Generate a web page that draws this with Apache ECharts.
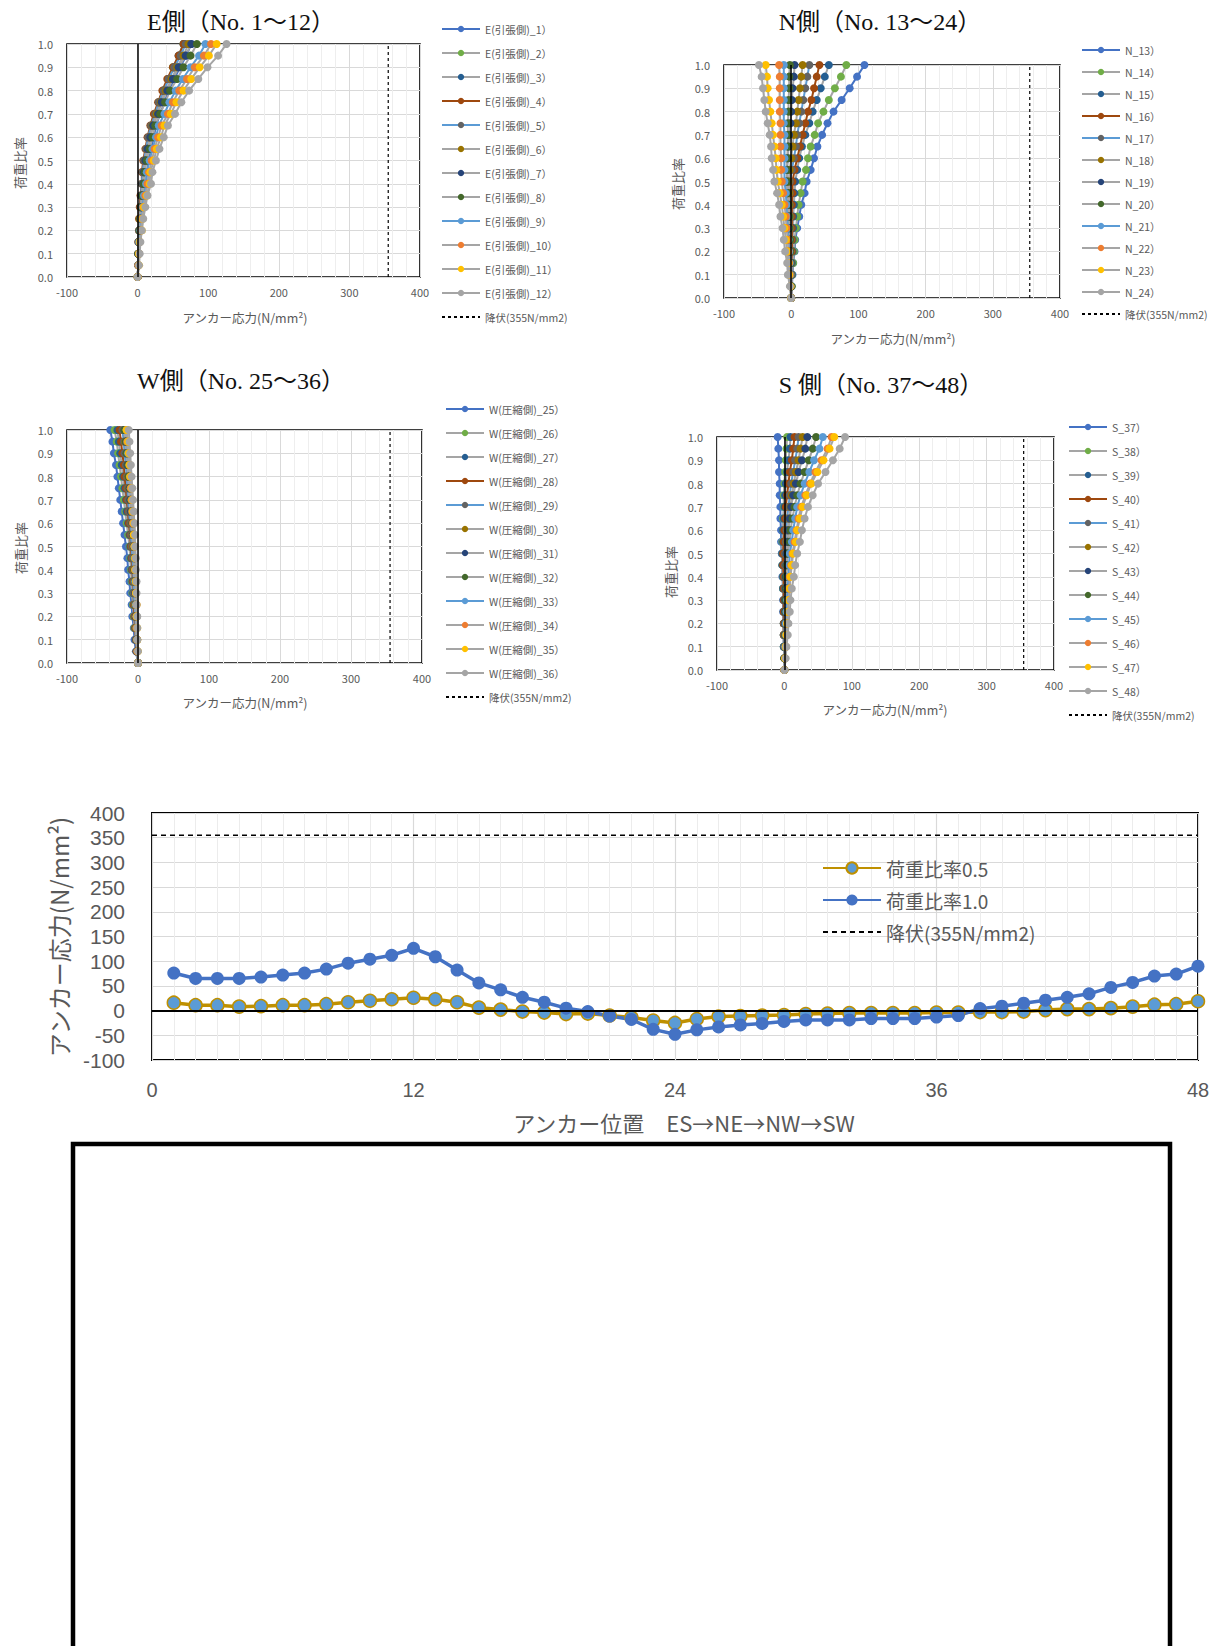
<!DOCTYPE html>
<html><head><meta charset="utf-8">
<script src="https://cdn.jsdelivr.net/npm/echarts/dist/echarts.min.js"></script>
<style>
html,body{margin:0;padding:0;background:#fff;width:1232px;height:1646px;overflow:hidden;}
.c{position:absolute;}
</style></head><body>
<div id="chE" class="c" style="left:0;top:0;width:616px;height:350px"></div>
<div id="chN" class="c" style="left:616px;top:0;width:616px;height:350px"></div>
<div id="chW" class="c" style="left:0;top:350px;width:616px;height:395px"></div>
<div id="chS" class="c" style="left:616px;top:350px;width:616px;height:395px"></div>
<div id="chB" class="c" style="left:0;top:745px;width:1232px;height:901px"></div>
<script>
// ---------- data ----------
const loadRatios = [0,0.05,0.1,0.15,0.2,0.25,0.3,0.35,0.4,0.45,0.5,0.55,0.6,0.65,0.7,0.75,0.8,0.85,0.9,0.95,1.0];
const yieldStress = 355;
const yieldName = '降伏(355N/mm2)';

const eNames = ['E(引張側)_1）','E(引張側)_2）','E(引張側)_3）','E(引張側)_4）','E(引張側)_5）','E(引張側)_6）','E(引張側)_7）','E(引張側)_8）','E(引張側)_9）','E(引張側)_10）','E(引張側)_11）','E(引張側)_12）'];
const nNames = ['N_13）','N_14）','N_15）','N_16）','N_17）','N_18）','N_19）','N_20）','N_21）','N_22）','N_23）','N_24）'];
const wNames = ['W(圧縮側)_25）','W(圧縮側)_26）','W(圧縮側)_27）','W(圧縮側)_28）','W(圧縮側)_29）','W(圧縮側)_30）','W(圧縮側)_31）','W(圧縮側)_32）','W(圧縮側)_33）','W(圧縮側)_34）','W(圧縮側)_35）','W(圧縮側)_36）'];
const sNames = ['S_37）','S_38）','S_39）','S_40）','S_41）','S_42）','S_43）','S_44）','S_45）','S_46）','S_47）','S_48）'];

// stress (N/mm2) at each load ratio, one row per anchor
const eValues = [
 [0,1,2,2,4,5,7,9,12,13,16,19,23,26,32,38,44,52,60,69,76],
 [0,1,1,2,3,3,5,6,8,9,11,14,17,20,26,30,36,43,50,59,65],
 [0,1,1,2,3,4,5,6,8,9,11,14,17,21,26,31,37,44,51,58,65],
 [0,1,1,1,2,2,3,4,6,6,8,11,14,18,23,29,35,42,50,58,65],
 [0,1,1,1,2,3,4,5,6,7,9,12,15,19,25,30,37,44,52,61,68],
 [0,1,1,2,3,3,5,6,8,9,11,14,18,21,27,33,40,48,56,65,72],
 [0,1,1,2,3,4,5,6,8,9,11,14,18,22,29,34,42,50,58,68,76],
 [0,1,1,2,3,4,5,7,9,10,13,17,21,25,32,39,46,56,65,75,84],
 [0,1,2,2,4,5,7,9,12,13,17,21,26,30,38,45,54,64,75,87,96],
 [0,1,2,3,5,6,8,11,14,16,20,24,29,34,43,50,59,70,81,94,104],
 [0,2,2,3,6,7,9,13,17,18,23,27,33,38,47,55,65,76,88,101,112],
 [0,2,3,4,6,8,11,14,19,21,26,31,37,43,53,62,73,86,99,114,126]
];
const nValues = [
 [0,1,2,3,5,6,9,12,15,20,23,29,34,39,46,54,63,75,87,98,109],
 [0,1,1,3,4,5,7,9,11,14,17,22,25,29,35,40,48,56,65,74,82],
 [0,0,1,1,2,2,3,3,4,5,6,9,12,16,21,27,32,38,44,50,56],
 [0,0,0,0,1,1,1,1,1,2,2,5,9,13,17,21,25,30,34,38,42],
 [0,0,0,0,-1,-1,-1,-1,-2,-2,-2,1,4,7,9,12,15,18,21,24,27],
 [0,0,0,-1,-1,-1,-2,-2,-3,-3,-4,-2,0,2,4,7,9,11,13,15,17],
 [0,0,-1,-1,-2,-2,-3,-4,-5,-6,-7,-6,-5,-4,-3,-1,0,1,2,4,5],
 [0,0,-1,-1,-2,-2,-3,-3,-4,-5,-6,-6,-6,-5,-5,-5,-4,-4,-3,-3,-2],
 [0,-1,-1,-2,-3,-4,-5,-6,-7,-8,-10,-10,-10,-10,-10,-11,-11,-11,-11,-11,-11],
 [0,-1,-2,-3,-4,-5,-7,-8,-10,-12,-14,-15,-15,-16,-16,-16,-17,-17,-17,-17,-18],
 [0,-1,-3,-4,-6,-8,-10,-12,-14,-17,-20,-22,-23,-25,-27,-29,-31,-33,-35,-36,-38],
 [0,-2,-5,-6,-9,-11,-13,-16,-18,-21,-25,-27,-29,-30,-32,-35,-38,-40,-42,-44,-48]
];
const wValues = [
 [0,-3,-5,-6,-8,-9,-11,-12,-14,-15,-17,-19,-21,-23,-25,-27,-29,-31,-34,-36,-39],
 [0,-2,-3,-5,-6,-7,-8,-9,-10,-11,-12,-14,-16,-18,-20,-22,-24,-26,-28,-30,-33],
 [0,-2,-3,-4,-5,-6,-7,-8,-9,-10,-11,-12,-14,-16,-17,-19,-21,-23,-25,-27,-29],
 [0,-2,-3,-4,-5,-6,-6,-7,-8,-9,-10,-11,-13,-14,-16,-17,-19,-20,-22,-24,-26],
 [0,-1,-3,-3,-4,-5,-6,-6,-7,-8,-9,-10,-11,-13,-14,-15,-16,-17,-19,-20,-22],
 [0,-1,-2,-3,-3,-4,-4,-5,-6,-6,-7,-8,-9,-10,-11,-13,-14,-15,-16,-18,-19],
 [0,-1,-2,-2,-3,-3,-4,-4,-5,-5,-6,-7,-8,-10,-11,-12,-13,-15,-16,-17,-19],
 [0,-1,-1,-2,-2,-3,-3,-4,-4,-5,-5,-6,-7,-9,-10,-11,-13,-14,-16,-17,-19],
 [0,-1,-1,-2,-2,-3,-3,-4,-4,-5,-5,-6,-7,-8,-9,-10,-11,-12,-14,-15,-16],
 [0,-1,-1,-2,-2,-2,-3,-3,-4,-4,-5,-6,-7,-8,-9,-10,-11,-12,-13,-15,-16],
 [0,0,-1,-1,-2,-2,-3,-3,-4,-4,-5,-6,-6,-7,-8,-9,-11,-12,-13,-14,-16],
 [0,0,-1,-1,-1,-2,-2,-2,-3,-3,-4,-4,-5,-6,-7,-8,-9,-10,-11,-12,-13]
];
const sValues = [
 [0,0,-1,-1,-1,-2,-2,-2,-3,-3,-4,-5,-5,-6,-6,-7,-7,-8,-8,-9,-10],
 [0,0,-1,-1,-1,-1,-1,-2,-2,-3,-3,-3,-2,-2,-1,-1,0,1,2,3,4],
 [0,0,-1,-1,-1,-1,-1,-2,-2,-3,-3,-2,-2,-1,0,1,2,4,6,8,9],
 [0,0,0,-1,-1,-1,-1,-1,-1,-2,-2,-1,0,1,2,4,6,8,11,13,15],
 [0,0,0,0,0,1,1,1,1,1,1,2,3,4,6,8,10,13,16,19,21],
 [0,0,1,1,1,1,1,2,2,3,3,4,5,7,9,11,14,17,21,24,27],
 [0,0,1,1,1,1,1,2,2,3,3,5,6,8,10,13,17,21,26,31,34],
 [0,0,1,1,2,2,2,3,3,4,5,8,9,12,15,19,24,30,36,42,47],
 [0,1,1,2,2,3,4,5,6,7,8,11,13,16,19,24,30,37,44,52,57],
 [0,1,2,3,4,5,6,7,8,10,12,15,18,21,25,31,38,46,55,64,70],
 [0,1,2,3,4,5,6,8,9,11,13,17,19,23,27,33,40,49,58,67,74],
 [0,2,3,5,6,8,9,11,14,16,19,23,26,30,35,42,50,61,72,82,90]
];
const anchorNos = [1,2,3,4,5,6,7,8,9,10,11,12,13,14,15,16,17,18,19,20,21,22,23,24,25,26,27,28,29,30,31,32,33,34,35,36,37,38,39,40,41,42,43,44,45,46,47,48];
const bottomNames = ['荷重比率0.5','荷重比率1.0'];

// ---------- style ----------
const FONT = "'Noto Sans CJK JP','Noto Sans',sans-serif";
const NUMFONT = "'Liberation Sans','Noto Sans',sans-serif";
const SERIF = "'Liberation Serif','DejaVu Serif','Noto Sans CJK JP',serif";
const TXT = '#595959';
const markerColors = ['#4472C4','#70AD47','#255E91','#9E480E','#636363','#997300','#264478','#43682B','#5B9BD5','#ED7D31','#FFC000','#A5A5A5'];
const lineColors = ['#4472C4','#A5A5A5','#A5A5A5','#9E480E','#5B9BD5','#A5A5A5','#A5A5A5','#A5A5A5','#5B9BD5','#A5A5A5','#A5A5A5','#A5A5A5'];

function txt(x, y, text, size, opts) {
  opts = opts || {};
  return {type:'text', x:x, y:y, rotation: opts.rot || 0, silent:true,
    style:{text:text, fill: opts.color || TXT, fontSize:size, fontFamily: opts.family || FONT,
      fontWeight: opts.weight || 'normal',
      align:'center', verticalAlign:'middle', textAlign:'center', textVerticalAlign:'middle'}};
}

function buildSmall(id, c) {
  const chart = echarts.init(document.getElementById(id), null, {renderer:'svg'});
  const series = [{
    name: yieldName, type:'line', data:[[yieldStress,0],[yieldStress,1]],
    symbol:'none', silent:true, animation:false,
    lineStyle:{color:'#000', type:[3,3], width:1.2}, itemStyle:{color:'#000'},
    markLine:{silent:true, symbol:'none', animation:false, label:{show:false},
      lineStyle:{color:'#000', type:'solid', width:1.5}, data:[{xAxis:0}]}
  }];
  c.values.forEach(function(vals, k){
    series.push({name:c.names[k], type:'line', data: vals.map(function(v,i){return [v, loadRatios[i]];}),
      symbol:'circle', symbolSize:8, animation:false, silent:true,
      lineStyle:{color:lineColors[k], width:2}, itemStyle:{color:markerColors[k]}});
  });
  const g = c.grid;
  chart.setOption({
    animation:false,
    grid:{left:g[0], top:g[1], width:g[2], height:g[3], show:true, borderColor:'#000', borderWidth:1.6},
    xAxis:{type:'value', min:-100, max:400, interval:100,
      axisLine:{show:false}, axisTick:{show:false},
      axisLabel:{color:TXT, fontSize:11, fontFamily:FONT, margin:9},
      splitLine:{lineStyle:{color:'#d9d9d9', width:1}},
      minorTick:{show:false, splitNumber:5},
      minorSplitLine:{show:true, lineStyle:{color:'#eeeeee', width:1}}},
    yAxis:{type:'value', min:0, max:1, interval:0.1,
      axisLine:{show:false}, axisTick:{show:false},
      axisLabel:{color:TXT, fontSize:11, fontFamily:FONT, margin:14, formatter:function(v){return v.toFixed(1);}},
      splitLine:{lineStyle:{color:'#d9d9d9', width:1}}},
    legend:{orient:'vertical', left:c.legend[0], top:c.legend[1], itemGap:c.legend[2],
      itemWidth:38, itemHeight:8, selectedMode:false,
      data: c.names.concat([{name:yieldName, itemStyle:{opacity:0}}]),
      textStyle:{color:TXT, fontSize:10.5, fontFamily:FONT, lineHeight:12}},
    graphic:[
      txt(c.title[0], c.title[1], c.title[2], 24, {color:'#111', family:SERIF}),
      txt(c.yname[0], c.yname[1], '荷重比率', 13, {rot:Math.PI/2}),
      txt(c.xname[0], c.xname[1], 'アンカー応力(N/mm²)', 12.5)
    ],
    series: series
  });
}

buildSmall('chE', {values:eValues, names:eNames, grid:[67,44,353,233],
  title:[241,22,'E側（No. 1～12）'], yname:[19,163], xname:[245,317], legend:[436,18,12]});
buildSmall('chN', {values:nValues, names:nNames, grid:[108,65,336,233],
  title:[264,22,'N側（No. 13～24）'], yname:[61,184], xname:[277,338], legend:[460,39,10]});
buildSmall('chW', {values:wValues, names:wNames, grid:[67,80,355,233],
  title:[241,31,'W側（No. 25～36）'], yname:[20,198], xname:[245,352], legend:[440,48,12]});
buildSmall('chS', {values:sValues, names:sNames, grid:[101,87,337,233],
  title:[265,35,'S 側（No. 37～48）'], yname:[54,222], xname:[269,359], legend:[447,66,12]});

// ---------- bottom chart ----------
const allValues = eValues.concat(nValues, wValues, sValues);
const iHalf = loadRatios.indexOf(0.5), iFull = loadRatios.indexOf(1.0);
const chB = echarts.init(document.getElementById('chB'), null, {renderer:'svg'});
chB.setOption({
  animation:false,
  grid:{left:152, top:68, width:1046, height:247, show:true, borderColor:'#000', borderWidth:2},
  xAxis:{type:'value', min:0, max:48, interval:12,
    axisLine:{show:false}, axisTick:{show:false},
    axisLabel:{color:TXT, fontSize:20, fontFamily:NUMFONT, margin:20},
    splitLine:{lineStyle:{color:'#d9d9d9', width:1.2}},
    minorTick:{show:false, splitNumber:12},
    minorSplitLine:{show:true, lineStyle:{color:'#ececec', width:1}}},
  yAxis:{type:'value', min:-100, max:400, interval:50,
    axisLine:{show:false}, axisTick:{show:false},
    axisLabel:{color:TXT, fontSize:21, fontFamily:NUMFONT, margin:27, lineHeight:21},
    splitLine:{lineStyle:{color:'#d9d9d9', width:1.2}}},
  legend:{orient:'vertical', left:817, top:107, itemGap:10, itemWidth:58, itemHeight:14,
    selectedMode:false, data: bottomNames.concat([{name:yieldName, itemStyle:{opacity:0}}]),
    textStyle:{color:TXT, fontSize:19, fontFamily:FONT, lineHeight:22}},
  graphic:[
    txt(684, 377, 'アンカー位置　ES→NE→NW→SW', 22),
    txt(58, 192, 'アンカー応力(N/mm²)', 24, {rot:Math.PI/2}),
    {type:'rect', silent:true, shape:{x:73, y:399, width:1097, height:560},
      style:{fill:'none', stroke:'#000', lineWidth:4.5}}
  ],
  series:[
    {name:yieldName, type:'line', data:[[0,yieldStress],[48,yieldStress]], symbol:'none', silent:true,
      lineStyle:{color:'#000', type:[5,4], width:1.5}, itemStyle:{color:'#000'},
      markLine:{silent:true, symbol:'none', label:{show:false},
        lineStyle:{color:'#000', type:'solid', width:2}, data:[{yAxis:0}]}},
    {name:bottomNames[0], type:'line', silent:true,
      data: anchorNos.map(function(n,i){return [n, allValues[i][iHalf]];}),
      symbol:'circle', symbolSize:13,
      lineStyle:{color:'#BF9000', width:3.5},
      itemStyle:{color:'#5B9BD5', borderColor:'#BF9000', borderWidth:1.5}},
    {name:bottomNames[1], type:'line', silent:true,
      data: anchorNos.map(function(n,i){return [n, allValues[i][iFull]];}),
      symbol:'circle', symbolSize:13,
      lineStyle:{color:'#4472C4', width:3.5},
      itemStyle:{color:'#4472C4'}}
  ]
});
</script>
</body></html>
